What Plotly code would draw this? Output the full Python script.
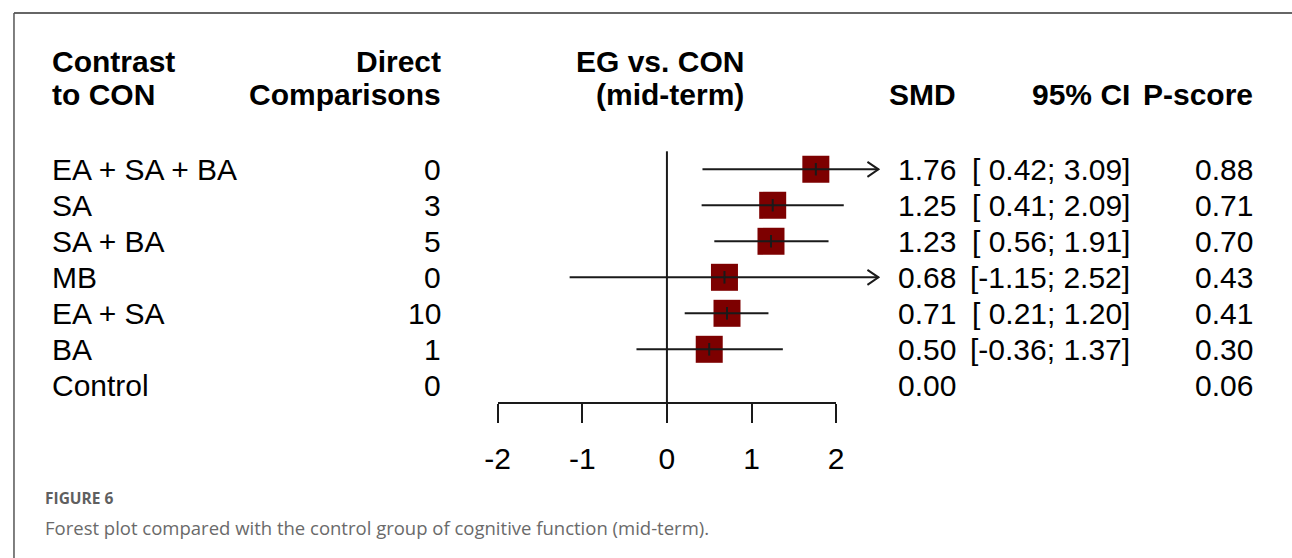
import plotly.graph_objects as go

# ---------------- data ----------------
labels = ["EA + SA + BA", "SA", "SA + BA", "MB", "EA + SA", "BA", "Control"]
direct = [0, 3, 5, 0, 10, 1, 0]
smd = [1.76, 1.25, 1.23, 0.68, 0.71, 0.50, 0.00]
lower = [0.42, 0.41, 0.56, -1.15, 0.21, -0.36, None]
upper = [3.09, 2.09, 1.91, 2.52, 1.20, 1.37, None]
pscore = [0.88, 0.71, 0.70, 0.43, 0.41, 0.30, 0.06]
tick_vals = [-2, -1, 0, 1, 2]
clip_max = 2.5

# ---------------- geometry ----------------
W, H = 1292, 558
# observed horizontal mapping of the rendered page: shown = S * x + B
S, B = 0.9825, 12.9


def X(px):
    """target pixel -> layout pixel"""
    return (px - B) / S


ROW0, STEP = 169.3, 36.0          # pixel centre of first row, row spacing
PX0, UNIT = 666.0, 84.5           # target pixel of x=0, target pixels per unit
XR = [-2.3, 2.7]
FONT = "Liberation Sans, Arial, Helvetica, sans-serif"
FS = 30
INK = "#1a1a1a"
SQ = "#7d0000"

n = len(labels)
rows = list(range(n))

fig = go.Figure()

sq_rows = [i for i in rows if lower[i] is not None]
fig.add_trace(go.Scatter(
    x=[smd[i] for i in sq_rows], y=sq_rows, mode="markers",
    marker=dict(symbol="square", size=27, color=SQ, line=dict(width=0)),
    hoverinfo="skip", showlegend=False))

for i in sq_rows:
    hi = min(upper[i], clip_max)
    fig.add_trace(go.Scatter(x=[lower[i], hi], y=[i, i], mode="lines",
                             line=dict(color=INK, width=2), hoverinfo="skip",
                             showlegend=False))
    if upper[i] > clip_max:
        dx, dy = 11 / UNIT, 7.5 / STEP
        fig.add_trace(go.Scatter(x=[hi - dx, hi, hi - dx], y=[i - dy, i, i + dy],
                                 mode="lines", line=dict(color=INK, width=2),
                                 hoverinfo="skip", showlegend=False))

fig.add_trace(go.Scatter(
    x=[smd[i] for i in sq_rows], y=sq_rows, mode="markers",
    marker=dict(symbol="line-ns", size=9, line=dict(width=2, color=INK)),
    hoverinfo="skip", showlegend=False))

fig.add_trace(go.Scatter(x=[0], y=[None], xaxis="x2", yaxis="y",
                         mode="markers", showlegend=False, hoverinfo="skip"))

fig.add_shape(type="line", xref="x", yref="y", x0=0, x1=0, y0=-0.5, y1=n - 0.5,
              line=dict(color=INK, width=2))

# frame
fx = max(X(10), 1) / W
fig.add_shape(type="line", xref="paper", yref="paper", x0=fx, x1=1.05,
              y0=1 - 13 / H, y1=1 - 13 / H, line=dict(color="#333333", width=1.5))
fig.add_shape(type="line", xref="paper", yref="paper", x0=fx, x1=fx,
              y0=-0.05, y1=1 - 13 / H, line=dict(color="#555555", width=1.5))


def txt(xpx, ypx, s, anchor, bold=False, size=FS, color="black", family=FONT):
    if bold:
        s = "<b>" + s + "</b>"
    fig.add_annotation(x=X(xpx) / W, y=1 - ypx / H, xref="paper", yref="paper",
                       text=s, showarrow=False, xanchor=anchor, yanchor="middle",
                       font=dict(family=family, size=size, color=color))


L1, L2 = 61.5, 94.3
txt(50, L1, "Contrast", "left", True)
txt(50, L2, "to CON", "left", True)
txt(442, L1, "Direct", "right", True)
txt(442, L2, "Comparisons", "right", True)
txt(745, L1, "EG vs. CON", "right", True)
txt(745, L2, "(mid-term)", "right", True)
txt(957, L2, "SMD", "right", True)
txt(1130, L2, "95% CI", "right", True)
txt(1253, L2, "P-score", "right", True)

for i in rows:
    y = ROW0 + STEP * i + 0.5
    txt(50, y, labels[i], "left")
    txt(442, y, str(direct[i]), "right")
    txt(957, y, f"{smd[i]:.2f}", "right")
    if lower[i] is not None:
        txt(1130, y, f"[{lower[i]:5.2f}; {upper[i]:.2f}]".replace("  ", " "), "right")
    txt(1253, y, f"{pscore[i]:.2f}", "right")

txt(43, 498, "<b>FIGURE 6</b>", "left", size=15.5, color="#5f5f5f", family="Open Sans")
txt(43, 527, "Forest plot compared with the control group of cognitive function (mid-term).",
    "left", size=18.5, color="#6a6a6a", family="Open Sans")

axis_y = ROW0 + STEP * (n - 0.5)
fig.update_layout(
    width=W, height=H, margin=dict(l=0, r=0, t=0, b=0),
    paper_bgcolor="white", plot_bgcolor="rgba(0,0,0,0)",
    xaxis=dict(domain=[X(PX0 + XR[0] * UNIT) / W, X(PX0 + XR[1] * UNIT) / W],
               range=XR, visible=False, fixedrange=True),
    xaxis2=dict(domain=[X(PX0 + tick_vals[0] * UNIT) / W, X(PX0 + tick_vals[-1] * UNIT) / W],
                range=[tick_vals[0], tick_vals[-1]], anchor="free",
                position=1 - axis_y / H, side="bottom",
                tickmode="array", tickvals=tick_vals, ticktext=[str(v) for v in tick_vals],
                ticks="outside", ticklen=19, tickwidth=2, tickcolor=INK,
                showline=True, linewidth=2, linecolor=INK, showgrid=False,
                zeroline=False, ticklabelstandoff=10,
                tickfont=dict(family=FONT, size=FS, color="black")),
    yaxis=dict(domain=[0, 1], range=[(H - ROW0) / STEP, -ROW0 / STEP],
               visible=False, fixedrange=True),
)

fig.write_html("out.html", config={"displayModeBar": False},
               post_script="document.body.style.margin='0';document.body.style.overflow='hidden';")
